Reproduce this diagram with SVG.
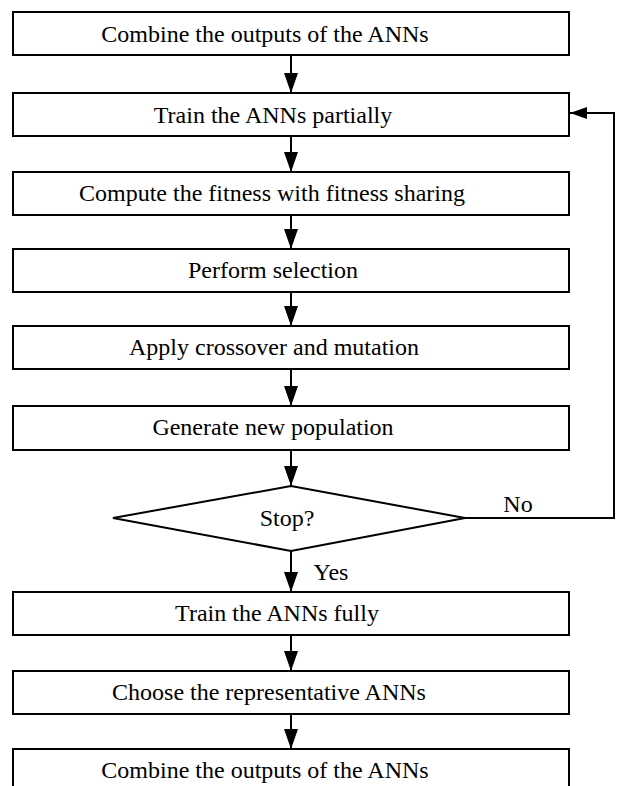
<svg xmlns="http://www.w3.org/2000/svg" width="618" height="786" viewBox="0 0 618 786">
<style>
.box{fill:#fff;stroke:#000;stroke-width:2}
.t{font-family:"Liberation Serif","Times New Roman",serif;font-size:24px;fill:#000;text-anchor:middle}
.c{fill:none;stroke:#000;stroke-width:2}
</style>
<defs>
<marker id="ah" markerUnits="userSpaceOnUse" markerWidth="21" markerHeight="16" refX="20" refY="7" orient="auto">
<path d="M0,0 L20,7 L0,14 Z" fill="#000"/>
</marker>
<marker id="ahs" markerUnits="userSpaceOnUse" markerWidth="18" markerHeight="14" refX="17" refY="6" orient="auto">
<path d="M0,0 L17,6 L0,12 Z" fill="#000"/>
</marker>
</defs>
<rect width="618" height="786" fill="#fff"/>
<g id="connectors">
<line class="c" x1="291" y1="55" x2="291" y2="93" marker-end="url(#ah)"/>
<line class="c" x1="291" y1="136" x2="291" y2="172" marker-end="url(#ah)"/>
<line class="c" x1="291" y1="215" x2="291" y2="249" marker-end="url(#ah)"/>
<line class="c" x1="291" y1="292" x2="291" y2="326" marker-end="url(#ah)"/>
<line class="c" x1="291" y1="369" x2="291" y2="406" marker-end="url(#ah)"/>
<line class="c" x1="291" y1="450" x2="291" y2="486" marker-end="url(#ah)"/>
<line class="c" x1="291" y1="551" x2="291" y2="592" marker-end="url(#ah)"/>
<line class="c" x1="291" y1="635" x2="291" y2="671" marker-end="url(#ah)"/>
<line class="c" x1="291" y1="714" x2="291" y2="749" marker-end="url(#ah)"/>
<polyline class="c" points="465,518 614,518 614,113 570,113" marker-end="url(#ahs)"/>
<text class="t" x="518" y="512">No</text>
<text class="t" x="331" y="580">Yes</text>
</g>
<g id="n1"><rect class="box" x="13" y="12" width="556" height="43"/><text class="t" x="265" y="42">Combine the outputs of the ANNs</text></g>
<g id="n2"><rect class="box" x="13" y="93" width="556" height="43"/><text class="t" x="273" y="123">Train the ANNs partially</text></g>
<g id="n3"><rect class="box" x="13" y="172" width="556" height="43"/><text class="t" x="272" y="201">Compute the fitness with fitness sharing</text></g>
<g id="n4"><rect class="box" x="13" y="249" width="556" height="43"/><text class="t" x="273" y="278">Perform selection</text></g>
<g id="n5"><rect class="box" x="13" y="326" width="556" height="43"/><text class="t" x="274" y="355">Apply crossover and mutation</text></g>
<g id="n6"><rect class="box" x="13" y="406" width="556" height="44"/><text class="t" x="273" y="435">Generate new population</text></g>
<g id="n7"><polygon class="box" points="113,518 291,486 465,518 291,551"/><text class="t" x="287" y="526">Stop?</text></g>
<g id="n8"><rect class="box" x="13" y="592" width="556" height="43"/><text class="t" x="277" y="621">Train the ANNs fully</text></g>
<g id="n9"><rect class="box" x="13" y="671" width="556" height="43"/><text class="t" x="269" y="700">Choose the representative ANNs</text></g>
<g id="n10"><rect class="box" x="13" y="749" width="556" height="43"/><text class="t" x="265" y="778">Combine the outputs of the ANNs</text></g>
</svg>
